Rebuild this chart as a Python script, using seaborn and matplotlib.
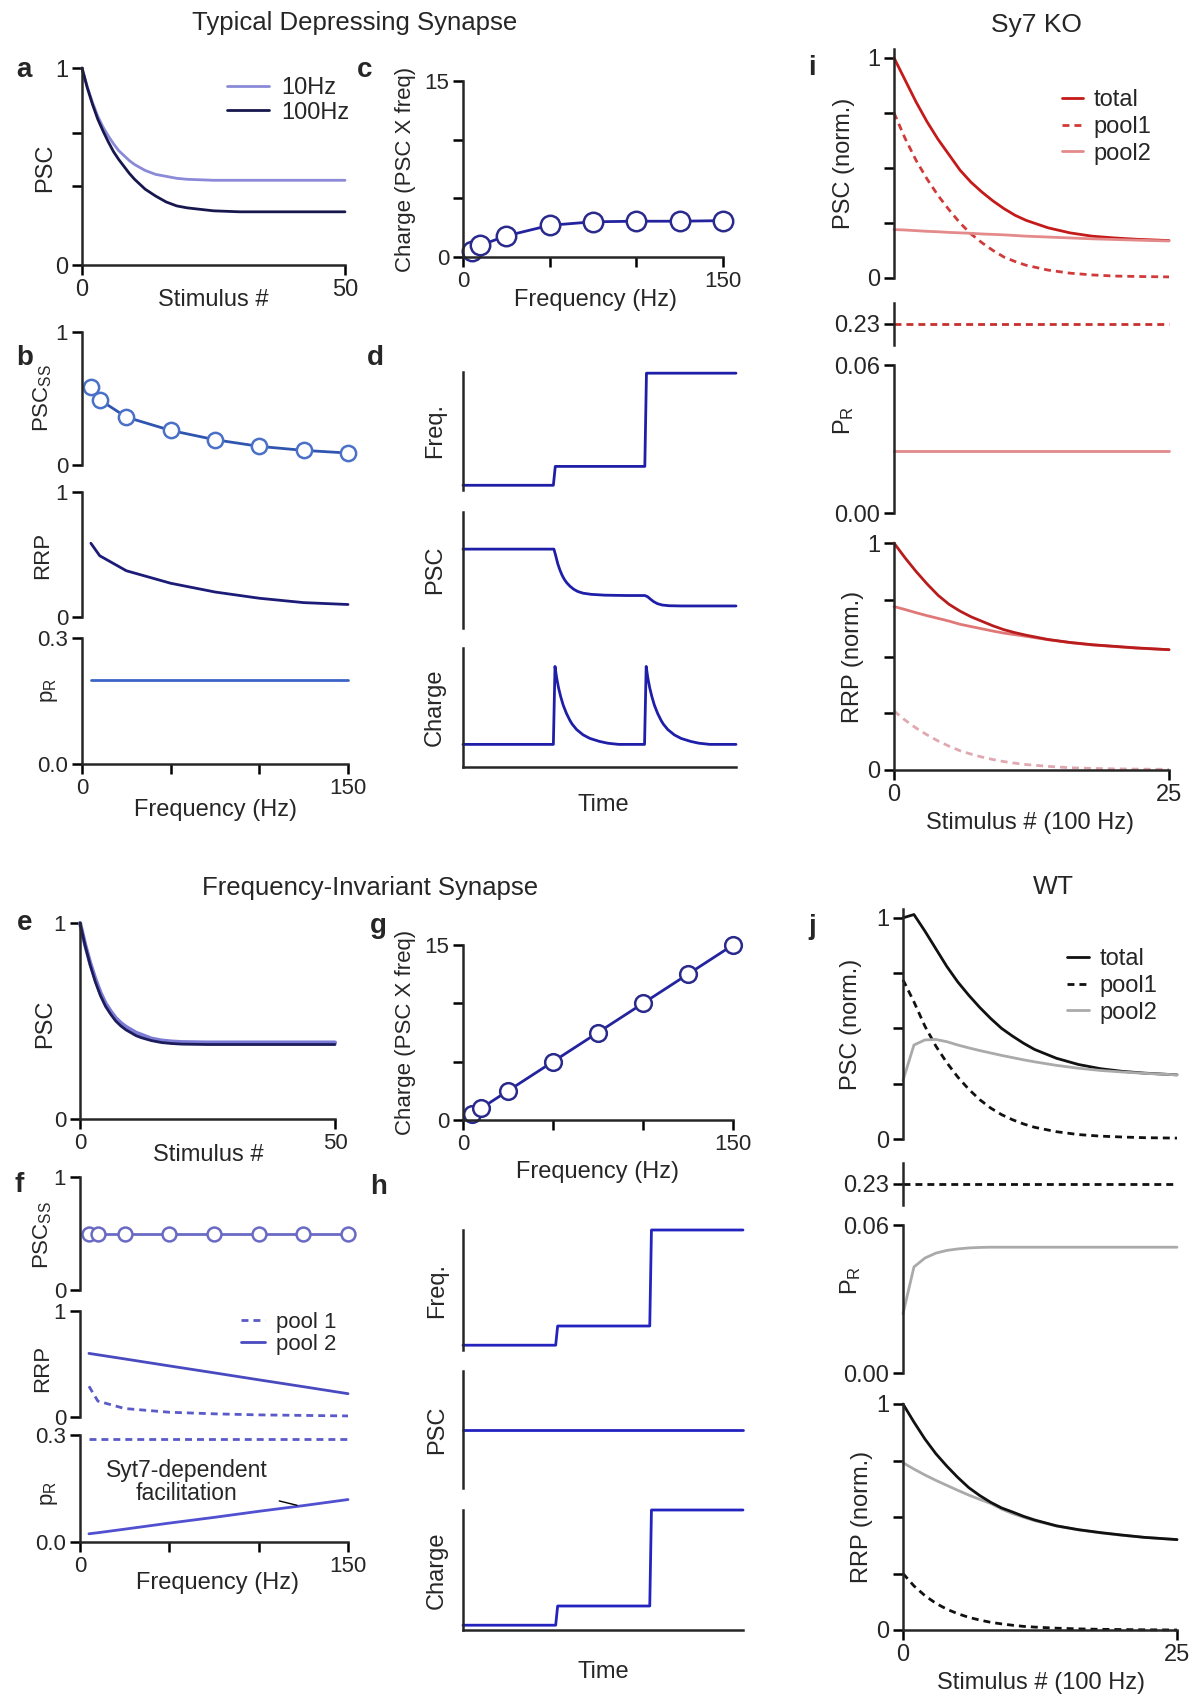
import matplotlib
matplotlib.use("Agg")
import matplotlib.pyplot as plt
import seaborn as sns

# ---- values ----
# panels a / e : PSC vs stimulus number
stim_ae = [0, 1, 2, 3, 4, 5, 6, 7, 8, 9, 10, 11, 12, 14, 16, 18, 20, 25, 30, 40, 50]
psc_a_10hz = [1.0, 0.905, 0.825, 0.755, 0.70, 0.655, 0.615, 0.58, 0.555, 0.53, 0.51, 0.495, 0.48,
              0.46, 0.45, 0.44, 0.435, 0.43, 0.43, 0.43, 0.43]
psc_a_100hz = [1.0, 0.90, 0.815, 0.74, 0.68, 0.625, 0.575, 0.535, 0.50, 0.465, 0.435, 0.41, 0.385,
               0.35, 0.32, 0.30, 0.29, 0.275, 0.27, 0.27, 0.27]
psc_e_10hz = [1.0, 0.89, 0.795, 0.715, 0.645, 0.59, 0.55, 0.515, 0.49, 0.47, 0.455, 0.44, 0.43,
              0.41, 0.40, 0.395, 0.392, 0.39, 0.39, 0.39, 0.39]
psc_e_100hz = [1.0, 0.885, 0.785, 0.70, 0.63, 0.575, 0.535, 0.50, 0.475, 0.455, 0.44, 0.425, 0.415,
               0.40, 0.39, 0.385, 0.382, 0.38, 0.38, 0.38, 0.38]

# panels b, c, f, g : vs stimulation frequency (Hz)
freqs = [5, 10, 25, 50, 75, 100, 125, 150]
pscss_b = [0.59, 0.49, 0.36, 0.26, 0.19, 0.14, 0.11, 0.09]
rrp_b = [0.59, 0.49, 0.37, 0.27, 0.20, 0.15, 0.115, 0.10]
pr_b = [0.2, 0.2, 0.2, 0.2, 0.2, 0.2, 0.2, 0.2]
charge_c = [0.5, 1.0, 1.8, 2.7, 3.0, 3.05, 3.05, 3.1]
charge_g = [0.5, 1.0, 2.5, 5.0, 7.5, 10.0, 12.5, 15.0]
pscss_f = [0.5, 0.5, 0.5, 0.5, 0.5, 0.5, 0.5, 0.5]
rrp_f_pool1 = [0.29, 0.15, 0.08, 0.045, 0.03, 0.02, 0.015, 0.01]
rrp_f_pool2 = [0.60, 0.587, 0.548, 0.482, 0.417, 0.351, 0.286, 0.22]
pr_f_pool1 = [0.29, 0.29, 0.29, 0.29, 0.29, 0.29, 0.29, 0.29]
pr_f_pool2 = [0.023, 0.026, 0.036, 0.053, 0.069, 0.086, 0.102, 0.119]

# panels d / h : schematic time courses (arbitrary units)
d_freq_t = [0, 0.331, 0.338, 0.666, 0.672, 1.0]
d_freq_v = [0.04, 0.04, 0.20, 0.20, 0.99, 0.99]
d_psc_t = [0, 0.333, 0.340, 0.347, 0.355, 0.363, 0.371, 0.380, 0.392, 0.405, 0.42, 0.44, 0.47, 0.52, 0.60,
           0.666, 0.676, 0.686, 0.698, 0.712, 0.730, 0.755, 0.80, 1.0]
d_psc_v = [0.68, 0.68, 0.62, 0.555, 0.50, 0.455, 0.42, 0.39, 0.36, 0.335, 0.315, 0.30, 0.29, 0.283, 0.28,
           0.28, 0.27, 0.25, 0.228, 0.21, 0.198, 0.192, 0.19, 0.19]
d_chg_t = [0, 0.331, 0.337, 0.343, 0.350, 0.358, 0.367, 0.379, 0.392, 0.40, 0.416, 0.44, 0.465, 0.50, 0.53, 0.57,
           0.665, 0.671, 0.677, 0.684, 0.692, 0.701, 0.713, 0.726, 0.734, 0.750, 0.774, 0.799, 0.834, 0.864, 0.904, 1.0]
d_chg_v = [0.19, 0.19, 0.845, 0.75, 0.665, 0.59, 0.52, 0.45, 0.39, 0.36, 0.315, 0.27, 0.24, 0.215, 0.20, 0.19,
           0.19, 0.845, 0.75, 0.665, 0.59, 0.52, 0.45, 0.39, 0.36, 0.315, 0.27, 0.24, 0.215, 0.20, 0.19, 0.19]
h_freq_t = [0, 0.331, 0.338, 0.667, 0.673, 1.0]
h_freq_v = [0.04, 0.04, 0.20, 0.20, 1.0, 1.0]
h_psc_t = [0, 1.0]
h_psc_v = [0.5, 0.5]
h_chg_t = [0, 0.331, 0.338, 0.667, 0.673, 1.0]
h_chg_v = [0.04, 0.04, 0.20, 0.20, 1.0, 1.0]

# panels i (Syt7 KO) / j (WT) : vs stimulus number at 100 Hz
stim_ij = [0, 1, 2, 3, 4, 5, 6, 7, 8, 9, 10, 11, 12, 14, 16, 18, 20, 22, 25]
i_psc_total = [1.0, 0.90, 0.80, 0.71, 0.63, 0.56, 0.49, 0.435, 0.39, 0.35, 0.315, 0.285, 0.262,
               0.228, 0.205, 0.19, 0.182, 0.176, 0.17]
i_psc_pool1 = [0.75, 0.635, 0.535, 0.45, 0.375, 0.31, 0.25, 0.20, 0.16, 0.125, 0.095, 0.075, 0.058,
               0.036, 0.022, 0.014, 0.009, 0.007, 0.005]
i_psc_pool2 = [0.22, 0.218, 0.215, 0.212, 0.21, 0.207, 0.205, 0.203, 0.20, 0.198, 0.196, 0.193, 0.19,
               0.186, 0.182, 0.178, 0.175, 0.172, 0.168]
i_pr_pool1 = [0.23] * 19
i_pr_pool2 = [0.025] * 19
i_rrp_total = [1.0, 0.935, 0.875, 0.82, 0.77, 0.73, 0.70, 0.675, 0.655, 0.635, 0.618, 0.605, 0.594,
               0.575, 0.562, 0.552, 0.545, 0.538, 0.53]
i_rrp_pool1 = [0.26, 0.22, 0.185, 0.155, 0.128, 0.105, 0.085, 0.07, 0.057, 0.046, 0.037, 0.03, 0.024,
               0.016, 0.01, 0.007, 0.005, 0.004, 0.003]
i_rrp_pool2 = [0.72, 0.707, 0.693, 0.68, 0.668, 0.656, 0.642, 0.632, 0.622, 0.612, 0.603, 0.596, 0.589,
               0.574, 0.561, 0.551, 0.544, 0.537, 0.53]

j_psc_total = [1.0, 1.015, 0.94, 0.86, 0.78, 0.71, 0.65, 0.595, 0.545, 0.50, 0.465, 0.433, 0.405,
               0.365, 0.337, 0.318, 0.306, 0.298, 0.29]
j_psc_pool1 = [0.72, 0.62, 0.51, 0.42, 0.345, 0.28, 0.225, 0.178, 0.14, 0.11, 0.087, 0.068, 0.053,
               0.033, 0.02, 0.013, 0.009, 0.006, 0.004]
j_psc_pool2 = [0.265, 0.425, 0.448, 0.45, 0.44, 0.425, 0.412, 0.40, 0.389, 0.378, 0.368, 0.358, 0.349,
               0.333, 0.32, 0.31, 0.303, 0.297, 0.29]
j_pr_pool1 = [0.23] * 19
j_pr_pool2 = [0.024, 0.043, 0.0466, 0.0486, 0.0497, 0.0503, 0.0507, 0.0509, 0.051, 0.051, 0.051, 0.051,
              0.051, 0.051, 0.051, 0.051, 0.051, 0.051, 0.051]
j_rrp_total = [1.0, 0.92, 0.845, 0.78, 0.725, 0.675, 0.63, 0.595, 0.565, 0.54, 0.522, 0.503, 0.487,
               0.461, 0.444, 0.431, 0.42, 0.41, 0.40]
j_rrp_pool1 = [0.25, 0.195, 0.152, 0.118, 0.092, 0.072, 0.056, 0.044, 0.034, 0.027, 0.021, 0.016, 0.013,
               0.008, 0.005, 0.003, 0.002, 0.001, 0.0]
j_rrp_pool2 = [0.74, 0.712, 0.686, 0.662, 0.64, 0.618, 0.597, 0.578, 0.56, 0.535, 0.515, 0.499, 0.484,
               0.46, 0.443, 0.43, 0.419, 0.41, 0.40]

# ---- style ----
sns.set_style("ticks")
plt.rcParams["font.family"] = ["Liberation Sans", "DejaVu Sans"]
plt.rcParams["mathtext.default"] = "regular"

W, H = 1200, 1703
fig = plt.figure(figsize=(W / 100, H / 100), dpi=100)

LW_AX = 1.8


def add_ax(left, top, right, bottom):
    return fig.add_axes([left / W, 1 - bottom / H, (right - left) / W, (bottom - top) / H])


def ftext(px, py, s, **kw):
    kw.setdefault("ha", "center")
    kw.setdefault("va", "center")
    fig.text(px / W, 1 - py / H, s, **kw)


def style(ax, bottom=False, ts=15):
    for s in ["top", "right"]:
        ax.spines[s].set_visible(False)
    ax.spines["left"].set_linewidth(LW_AX)
    ax.spines["bottom"].set_linewidth(LW_AX)
    ax.spines["bottom"].set_visible(bottom)
    ax.tick_params(width=LW_AX, length=7, labelsize=ts, pad=3, color="black")
    if not bottom:
        ax.tick_params(axis="x", bottom=False, labelbottom=False)
    ax.patch.set_alpha(0)
    ax.set_xlabel("")
    ax.set_ylabel("")


def line(ax, x, y, color, lw=2.0, **kw):
    sns.lineplot(x=x, y=y, ax=ax, color=color, linewidth=lw, clip_on=False, **kw)


def marks(ax, x, y, color, ms=11, lcolor=None, **kw):
    sns.lineplot(x=x, y=y, ax=ax, color=lcolor or color, linewidth=2.0, marker="o", markersize=ms,
                 markerfacecolor="white", markeredgecolor=color, markeredgewidth=1.8,
                 clip_on=False, **kw)


DASH = (0, (2.5, 1.8))

# ---------------- panel a ----------------
ax = add_ax(82, 68, 345, 265)
line(ax, stim_ae, psc_a_10hz, "#8a8ad8", label="10Hz")
line(ax, stim_ae, psc_a_100hz, "#17174d", label="100Hz")
ax.set_xlim(0, 50)
ax.set_ylim(0, 1)
style(ax, bottom=True, ts=17)
ax.set_xticks([0, 50])
ax.set_yticks([0, 0.4, 0.67, 1])
ax.set_yticklabels(["0", "", "", "1"])
ax.legend(loc="upper left", bbox_to_anchor=(0.55, 0.955), frameon=False, fontsize=17,
          handlelength=1.8, handletextpad=0.5, labelspacing=0.12, borderpad=0, borderaxespad=0)
ftext(45, 168, "PSC", rotation=90, fontsize=17)
ftext(213, 300, "Stimulus #", fontsize=17)

# ---------------- panel c ----------------
ax = add_ax(463, 81, 723, 257)
marks(ax, freqs, charge_c, "#2a2a8c", ms=14, lcolor="#2323a0")
ax.set_xlim(0, 150)
ax.set_ylim(0, 15)
style(ax, bottom=True, ts=16)
ax.set_xticks([0, 50, 100, 150])
ax.set_xticklabels(["0", "", "", "150"])
ax.set_yticks([0, 5, 10, 15])
ax.set_yticklabels(["0", "", "", "15"])
ftext(406, 169, "Charge (PSC X freq)", rotation=90, fontsize=16)
ftext(596, 300, "Frequency (Hz)", fontsize=17)

# ---------------- panel b ----------------
ax = add_ax(82, 332, 348, 465)
marks(ax, freqs, pscss_b, "#4a70c8", ms=11, lcolor="#2f55b0")
ax.set_xlim(0, 150)
ax.set_ylim(0, 1)
style(ax, ts=16)
ax.set_yticks([0, 1])
ftext(43, 398, "PSC$_{SS}$", rotation=90, fontsize=16)

ax = add_ax(82, 492, 348, 617)
line(ax, freqs, rrp_b, "#1c1c78")
ax.set_xlim(0, 150)
ax.set_ylim(0, 1)
style(ax, ts=16)
ax.set_yticks([0, 1])
ftext(43, 555, "RRP", rotation=90, fontsize=16)

ax = add_ax(82, 638, 348, 764)
line(ax, freqs, pr_b, "#3c64c8")
ax.set_xlim(0, 150)
ax.set_ylim(0, 0.3)
style(ax, bottom=True, ts=16)
ax.set_yticks([0, 0.3])
ax.set_yticklabels(["0.0", "0.3"])
ax.set_xticks([0, 50, 100, 150])
ax.set_xticklabels(["0", "", "", "150"])
ftext(50, 690, "p$_R$", rotation=90, fontsize=16)
ftext(215, 810, "Frequency (Hz)", fontsize=17)

# ---------------- panel d ----------------
for (top, bot, t, v, name, xb) in [
    (372, 490, d_freq_t, d_freq_v, "Freq.", False),
    (512, 628, d_psc_t, d_psc_v, "PSC", False),
    (648, 767, d_chg_t, d_chg_v, "Charge", True),
]:
    ax = add_ax(463, top, 736, bot)
    line(ax, t, v, "#1e1ea8")
    ax.set_xlim(0, 1)
    ax.set_ylim(0, 1)
    style(ax, bottom=xb)
    ax.set_yticks([])
    ax.set_xticks([])
    ftext(435, (top + bot) / 2, name, rotation=90, fontsize=17)
ftext(603, 805, "Time", fontsize=17)

# ---------------- panel e ----------------
ax = add_ax(80, 923, 335, 1119)
line(ax, stim_ae, psc_e_10hz, "#7b7bd6", lw=3.0)
line(ax, stim_ae, psc_e_100hz, "#1c1c5c", lw=2.0)
ax.set_xlim(0, 50)
ax.set_ylim(0, 1)
style(ax, bottom=True, ts=16)
ax.set_xticks([0, 50])
ax.set_yticks([0, 1])
ftext(45, 1024, "PSC", rotation=90, fontsize=17)
ftext(208, 1155, "Stimulus #", fontsize=17)

# ---------------- panel g ----------------
ax = add_ax(463, 945, 733, 1120)
marks(ax, freqs, charge_g, "#2a2a8c", ms=12, lcolor="#2323a0")
ax.set_xlim(0, 150)
ax.set_ylim(0, 15)
style(ax, bottom=True, ts=16)
ax.set_xticks([0, 50, 100, 150])
ax.set_xticklabels(["0", "", "", "150"])
ax.set_yticks([0, 5, 10, 15])
ax.set_yticklabels(["0", "", "", "15"])
ftext(406, 1032, "Charge (PSC X freq)", rotation=90, fontsize=16)
ftext(598, 1172, "Frequency (Hz)", fontsize=17)

# ---------------- panel f ----------------
ax = add_ax(80, 1177, 348, 1290)
marks(ax, freqs, pscss_f, "#6a6ac4", ms=10, lcolor="#6a6ac4")
ax.set_xlim(0, 150)
ax.set_ylim(0, 1)
style(ax, ts=16)
ax.set_yticks([0, 1])
ftext(43, 1235, "PSC$_{SS}$", rotation=90, fontsize=16)

ax = add_ax(80, 1311, 348, 1417)
line(ax, freqs, rrp_f_pool1, "#5a5ac8", linestyle=DASH, label="pool 1")
line(ax, freqs, rrp_f_pool2, "#4a4ac0", label="pool 2")
ax.set_xlim(0, 150)
ax.set_ylim(0, 1)
style(ax, ts=16)
ax.set_yticks([0, 1])
ax.legend(loc="upper left", bbox_to_anchor=(0.60, 0.99), frameon=False, fontsize=16,
          handlelength=1.1, handletextpad=0.5, labelspacing=0.05, borderpad=0, borderaxespad=0)
ftext(43, 1368, "RRP", rotation=90, fontsize=16)

ax = add_ax(80, 1435, 348, 1542)
line(ax, freqs, pr_f_pool1, "#5a5ac8", linestyle=DASH)
line(ax, freqs, pr_f_pool2, "#5050d0")
ax.set_xlim(0, 150)
ax.set_ylim(0, 0.3)
style(ax, bottom=True, ts=16)
ax.set_yticks([0, 0.3])
ax.set_yticklabels(["0.0", "0.3"])
ax.set_xticks([0, 50, 100, 150])
ax.set_xticklabels(["0", "", "", "150"])
ax.annotate("", xy=(123, 0.101), xytext=(110, 0.117),
            arrowprops=dict(arrowstyle="-", lw=1.0, color="black"))
ftext(187, 1482, "Syt7-dependent\nfacilitation", fontsize=16.5, linespacing=1.05)
ftext(50, 1493, "p$_R$", rotation=90, fontsize=16)
ftext(218, 1583, "Frequency (Hz)", fontsize=17)

# ---------------- panel h ----------------
for (top, bot, t, v, name, xb) in [
    (1230, 1350, h_freq_t, h_freq_v, "Freq.", False),
    (1371, 1488, h_psc_t, h_psc_v, "PSC", False),
    (1510, 1630, h_chg_t, h_chg_v, "Charge", True),
]:
    ax = add_ax(463, top, 743, bot)
    line(ax, t, v, "#2323c0")
    ax.set_xlim(0, 1)
    ax.set_ylim(0, 1)
    style(ax, bottom=xb)
    ax.set_yticks([])
    ax.set_xticks([])
    ftext(437, (top + bot) / 2, name, rotation=90, fontsize=17)
ftext(603, 1672, "Time", fontsize=17)


# ---------------- panels i / j ----------------
def two_pool(x0, x1, tops, psc, pr, rrp, cols, leg_anchor, label_x):
    c_tot, c_p1, c_p2, c_pr1, c_pr2, c_r_tot, c_r_p1, c_r_p2 = cols
    t_psc, t_mini, t_pr, t_rrp = tops

    ax = add_ax(x0, t_psc[0], x1, t_psc[1])
    line(ax, stim_ij, psc[0], c_tot, label="total")
    line(ax, stim_ij, psc[1], c_p1, linestyle=DASH, label="pool1")
    line(ax, stim_ij, psc[2], c_p2, label="pool2")
    ax.set_xlim(0, 25)
    ax.set_ylim(0, 1.04)
    style(ax, ts=17)
    ax.set_yticks([0, 0.25, 0.5, 0.75, 1])
    ax.set_yticklabels(["0", "", "", "", "1"])
    ax.legend(loc="upper left", bbox_to_anchor=leg_anchor, frameon=False, fontsize=17,
              handlelength=0.9, handletextpad=0.45, labelspacing=0.2, borderpad=0, borderaxespad=0)
    ftext(label_x[0], (t_psc[0] + t_psc[1]) / 2, "PSC (norm.)", rotation=90, fontsize=17)

    ax = add_ax(x0, t_mini[0], x1, t_mini[1])
    line(ax, stim_ij, pr[0], c_pr1, linestyle=DASH)
    ax.set_xlim(0, 25)
    ax.set_ylim(0.20, 0.26)
    style(ax, ts=17)
    ax.set_yticks([0.23])
    ax.set_yticklabels(["0.23"])

    ax = add_ax(x0, t_pr[0], x1, t_pr[1])
    line(ax, stim_ij, pr[1], c_pr2)
    ax.set_xlim(0, 25)
    ax.set_ylim(0, 0.06)
    style(ax, ts=17)
    ax.set_yticks([0, 0.06])
    ax.set_yticklabels(["0.00", "0.06"])
    ftext(label_x[1], t_pr[2], "P$_R$", rotation=90, fontsize=17)

    ax = add_ax(x0, t_rrp[0], x1, t_rrp[1])
    line(ax, stim_ij, rrp[2], c_r_p2)
    line(ax, stim_ij, rrp[1], c_r_p1, linestyle=DASH)
    line(ax, stim_ij, rrp[0], c_r_tot)
    ax.set_xlim(0, 25)
    ax.set_ylim(0, 1)
    style(ax, bottom=True, ts=17)
    ax.set_yticks([0, 0.25, 0.5, 0.75, 1])
    ax.set_yticklabels(["0", "", "", "", "1"])
    ax.set_xticks([0, 25])
    ftext(label_x[2], (t_rrp[0] + t_rrp[1]) / 2, "RRP (norm.)", rotation=90, fontsize=17)


two_pool(894, 1169, [(49, 278), (303, 345), (365, 513, 420), (543, 770)],
         [i_psc_total, i_psc_pool1, i_psc_pool2], [i_pr_pool1, i_pr_pool2],
         [i_rrp_total, i_rrp_pool1, i_rrp_pool2],
         ["#c41a1a", "#d03a3a", "#e48a8a", "#c83030", "#e08a8a", "#b81c1c", "#e0a8b0", "#e07878"],
         (0.61, 0.825), (844, 844, 853))
ftext(1030, 823, "Stimulus # (100 Hz)", fontsize=17)

two_pool(903, 1177, [(909, 1139), (1163, 1205), (1225, 1373, 1280), (1404, 1630)],
         [j_psc_total, j_psc_pool1, j_psc_pool2], [j_pr_pool1, j_pr_pool2],
         [j_rrp_total, j_rrp_pool1, j_rrp_pool2],
         ["#111111", "#111111", "#aaaaaa", "#111111", "#aaaaaa", "#111111", "#111111", "#aaaaaa"],
         (0.60, 0.83), (851, 851, 862))
ftext(1041, 1683, "Stimulus # (100 Hz)", fontsize=17)

# ---------------- titles and panel letters ----------------
ftext(355, 23, "Typical Depressing Synapse", fontsize=18.5)
ftext(1036, 25, "Sy7 KO", fontsize=19)
ftext(370, 888, "Frequency-Invariant Synapse", fontsize=18.5)
ftext(1053, 887, "WT", fontsize=19)

for (px, py, s) in [(24, 70, "a"), (365, 70, "c"), (25, 358, "b"), (375, 358, "d"), (812, 68, "i"),
                    (25, 923, "e"), (378, 926, "g"), (19, 1185, "f"), (379, 1187, "h"), (812, 927, "j")]:
    ftext(px, py, s, fontsize=20, fontweight="bold")

fig.savefig("out.png", dpi=100)
